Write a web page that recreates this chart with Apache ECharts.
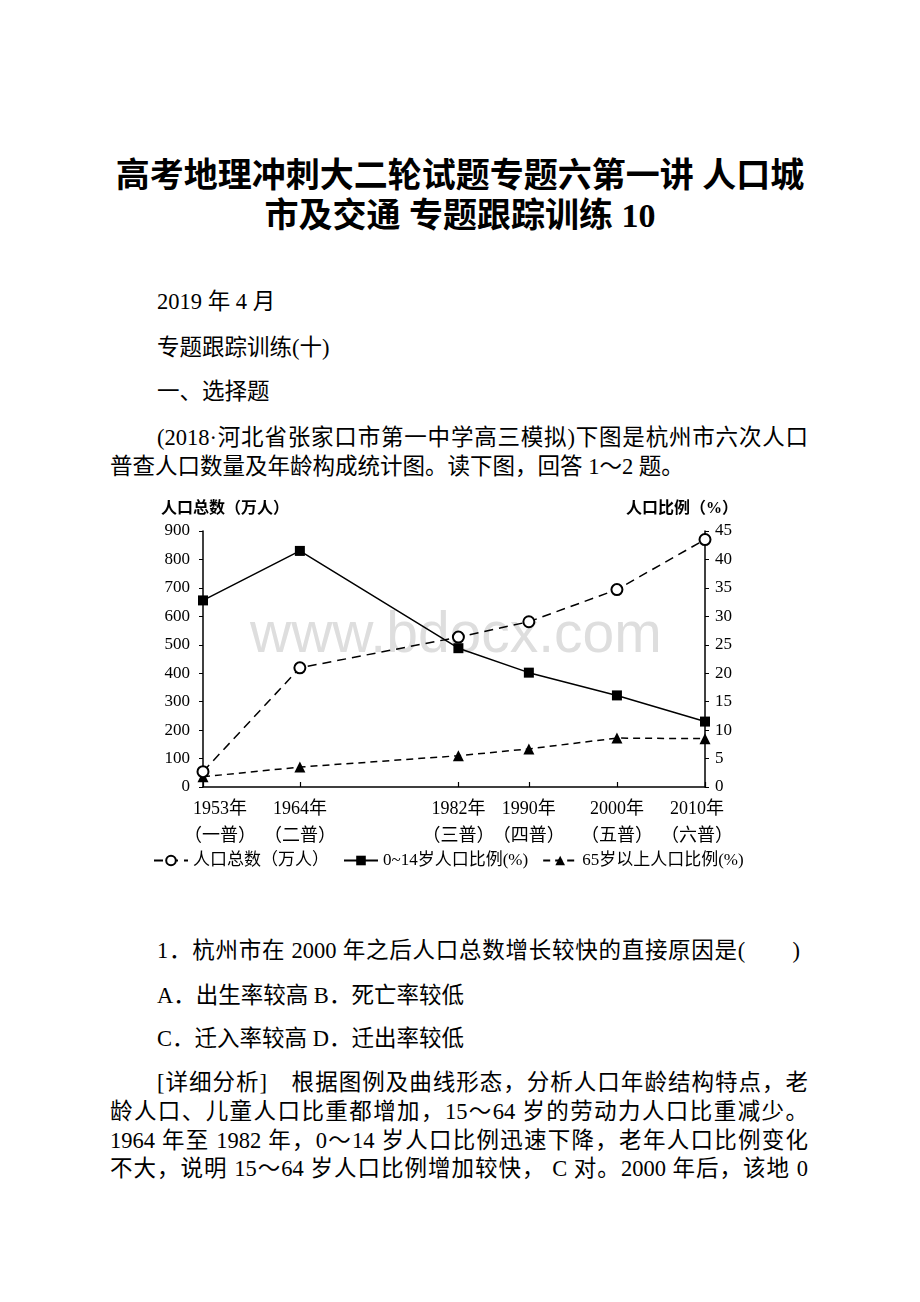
<!DOCTYPE html>
<html><head><meta charset="utf-8">
<script src="https://cdn.jsdelivr.net/npm/echarts@6/dist/echarts.min.js"></script>
<style>
html,body{margin:0;padding:0;background:#fff;}
body{width:920px;height:1302px;position:relative;overflow:hidden;font-family:"Liberation Serif","Noto Sans CJK SC",serif;color:#000;}
.t{position:absolute;white-space:nowrap;line-height:30px;font-size:22.5px;}
.j{text-align:justify;text-align-last:justify;white-space:normal;}
.title{position:absolute;left:0;width:920px;text-align:center;font-weight:bold;font-size:34px;line-height:40px;white-space:nowrap;}
#wm{position:absolute;left:250px;top:597px;font-family:"Liberation Sans",sans-serif;font-size:57px;line-height:70px;color:#dedede;white-space:nowrap;}
#chart{position:absolute;left:140px;top:490px;width:620px;height:400px;}
</style></head>
<body>
<div class="title" style="top:156px;">高考地理冲刺大二轮试题专题六第一讲 人口城</div>
<div class="title" style="top:196px;">市及交通 专题跟踪训练 10</div>
<div class="t" style="left:157px;top:287px;">2019 年 4 月</div>
<div class="t" style="left:157px;top:333px;">专题跟踪训练(十)</div>
<div class="t" style="left:157px;top:377px;">一、选择题</div>
<div class="t j" style="left:157px;top:423px;width:651px;">(2018·河北省张家口市第一中学高三模拟)下图是杭州市六次人口</div>
<div class="t" style="left:110px;top:452px;">普查人口数量及年龄构成统计图。读下图，回答 1～2 题。</div>
<div id="wm">www.bdocx.com</div>
<div id="chart"></div>
<div class="t j" style="left:157px;top:936px;width:643px;">1．杭州市在 2000 年之后人口总数增长较快的直接原因是(　　)</div>
<div class="t" style="left:157px;top:981px;">A．出生率较高 B．死亡率较低</div>
<div class="t" style="left:157px;top:1024px;">C．迁入率较高 D．迁出率较低</div>
<div class="t j" style="left:157px;top:1068px;width:651px;">[详细分析]　根据图例及曲线形态，分析人口年龄结构特点，老</div>
<div class="t j" style="left:110px;top:1097px;width:698px;">龄人口、儿童人口比重都增加，15～64 岁的劳动力人口比重减少。</div>
<div class="t j" style="left:110px;top:1126px;width:698px;">1964 年至 1982 年，0～14 岁人口比例迅速下降，老年人口比例变化</div>
<div class="t j" style="left:110px;top:1154px;width:698px;">不大，说明 15～64 岁人口比例增加较快， C 对。2000 年后，该地 0</div>
<script>
const years = [1953, 1964, 1982, 1990, 2000, 2010];
const censusNames = ['一普', '二普', '三普', '四普', '五普', '六普'];
const totalPop = [54, 419, 527, 581, 694, 870];
const childPct = [32.8, 41.5, 24.4, 20.1, 16.1, 11.5];
const elderPct = [1.8, 3.5, 5.5, 6.7, 8.6, 8.5];
const seriesNames = ['人口总数（万人）', '0~14岁人口比例(%)', '65岁以上人口比例(%)'];
const leftAxisName = '人口总数（万人）';
const rightAxisName = '人口比例（%）';

const FONT = '"Liberation Serif","Noto Sans CJK SC",serif';
const pairs = arr => years.map((y, i) => [y, arr[i]]);

const chart = echarts.init(document.getElementById('chart'), null, {renderer: 'canvas'});
chart.setOption({
  animation: false,
  grid: {left: 63, right: 55, top: 41, bottom: 103, outerBoundsMode: 'none', containLabel: false},
  legend: {
    left: 8, top: 357, itemWidth: 34, itemHeight: 12, itemGap: 14,
    textStyle: {fontSize: 17, fontFamily: FONT, color: '#000'},
    data: seriesNames
  },
  xAxis: {
    type: 'value', min: 1953, max: 2010,
    axisLine: {lineStyle: {color: '#000', width: 1.5}},
    axisTick: {show: true, inside: true, length: 5, customValues: years, lineStyle: {color: '#000', width: 1.2}},
    axisLabel: {
      customValues: years,
      formatter: v => {
        const i = years.indexOf(v);
        const k = i === 0 ? 'l' : (i === years.length - 1 ? 'r' : 'm');
        return '{' + k + '|' + v + '年}\n{' + k + '|（' + censusNames[i] + '）}';
      },
      rich: {
        l: {fontSize: 18, lineHeight: 27, fontFamily: FONT, color: '#000', padding: [0, 0, 0, 34]},
        m: {fontSize: 18, lineHeight: 27, fontFamily: FONT, color: '#000'},
        r: {fontSize: 18, lineHeight: 27, fontFamily: FONT, color: '#000', padding: [0, 16, 0, 0]}
      },
      fontSize: 18, lineHeight: 27, color: '#000', margin: 9, fontFamily: FONT
    },
    splitLine: {show: false}
  },
  yAxis: [{
    type: 'value', min: 0, max: 900, interval: 100, position: 'left',
    axisLine: {show: true, lineStyle: {color: '#000', width: 1.5}},
    axisTick: {show: true, length: 4, lineStyle: {color: '#000'}},
    axisLabel: {fontSize: 17, color: '#000', margin: 13, fontFamily: FONT},
    splitLine: {show: false},
    name: leftAxisName, nameLocation: 'end', nameGap: 14,
    nameTextStyle: {fontSize: 16, fontWeight: 'bold', color: '#000', fontFamily: FONT, padding: [0, 0, 0, 44]}
  }, {
    type: 'value', min: 0, max: 45, interval: 5, position: 'right',
    axisLine: {show: true, lineStyle: {color: '#000', width: 1.5}},
    axisTick: {show: true, length: 4, lineStyle: {color: '#000'}},
    axisLabel: {fontSize: 17, color: '#000', margin: 10, fontFamily: FONT},
    splitLine: {show: false},
    name: rightAxisName, nameLocation: 'end', nameGap: 14,
    nameTextStyle: {fontSize: 16, fontWeight: 'bold', color: '#000', fontFamily: FONT, padding: [0, 46, 0, 0]}
  }],
  series: [{
    name: seriesNames[0], type: 'line', yAxisIndex: 0, data: pairs(totalPop),
    symbol: 'emptyCircle', symbolSize: 11,
    lineStyle: {color: '#000', width: 1.5, type: [9, 6]},
    itemStyle: {color: '#000', borderWidth: 1.3}, z: 3
  }, {
    name: seriesNames[1], type: 'line', yAxisIndex: 1, data: pairs(childPct),
    symbol: 'rect', symbolSize: 10,
    lineStyle: {color: '#000', width: 1.5, type: 'solid'},
    itemStyle: {color: '#000'}, z: 2
  }, {
    name: seriesNames[2], type: 'line', yAxisIndex: 1, data: pairs(elderPct),
    symbol: 'triangle', symbolSize: 11,
    lineStyle: {color: '#000', width: 1.5, type: [7, 5]},
    itemStyle: {color: '#000'}, z: 2
  }]
});
</script>
</body></html>
